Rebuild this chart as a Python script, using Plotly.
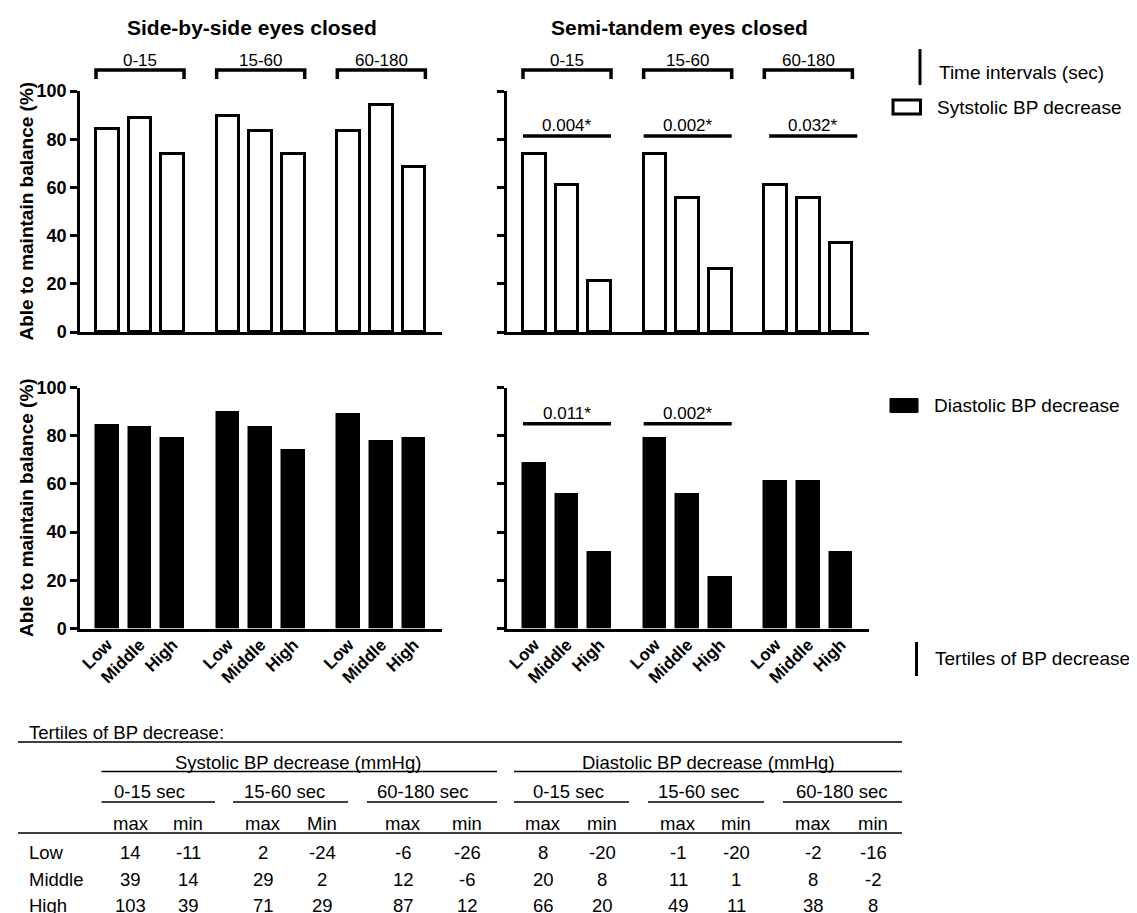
import plotly.graph_objects as go

# page has an 8px body margin: the figure is sized so it ends exactly at the window edge
OFF = 8
W, H = 1137 - OFF, 913 - OFF
FONT = "Liberation Sans, Arial, sans-serif"

# ---------------- data ----------------
tertiles = ["Low", "Middle", "High"]
intervals = ["0-15", "15-60", "60-180"]
panel_titles = ["Side-by-side eyes closed", "Semi-tandem eyes closed"]
y_title = "Able to maintain balance (%)"

sbs_systolic = [84.2, 88.9, 73.7, 89.5, 83.3, 73.7, 83.3, 94.4, 68.4]
semi_systolic = [73.7, 61.1, 21.1, 73.7, 55.6, 26.3, 61.1, 55.6, 36.8]
sbs_diastolic = [84.2, 83.3, 78.9, 89.5, 83.3, 73.7, 88.9, 77.8, 78.9]
semi_diastolic = [68.4, 55.6, 31.6, 78.9, 55.6, 21.1, 61.1, 61.1, 31.6]

semi_systolic_p = ["0.004*", "0.002*", "0.032*"]
semi_diastolic_p = ["0.011*", "0.002*", None]

legend_labels = ["Time intervals (sec)", "Sytstolic BP decrease",
                 "Diastolic BP decrease", "Tertiles of BP decrease"]

table_title = "Tertiles of BP decrease:"
table_groups = ["Systolic BP decrease (mmHg)", "Diastolic BP decrease (mmHg)"]
table_intervals = ["0-15 sec", "15-60 sec", "60-180 sec"]
table_cols = ["max", "min", "max", "Min", "max", "min",
              "max", "min", "max", "min", "max", "min"]
sys_0_15_max = [14, 39, 103]
sys_0_15_min = [-11, 14, 39]
sys_15_60_max = [2, 29, 71]
sys_15_60_min = [-24, 2, 29]
sys_60_180_max = [-6, 12, 87]
sys_60_180_min = [-26, -6, 12]
dia_0_15_max = [8, 20, 66]
dia_0_15_min = [-20, 8, 20]
dia_15_60_max = [-1, 11, 49]
dia_15_60_min = [-20, 1, 11]
dia_60_180_max = [-2, 8, 38]
dia_60_180_min = [-16, -2, 8]

# ---------------- helpers (page pixels -> paper fraction) ----------------
def X(px):
    return (px - OFF) / W

def Y(py):
    return 1 - (py - OFF) / H

GSTEP = 3.7
BW = 0.7
positions = [g * GSTEP + j for g in range(3) for j in range(3)]
XR = [-0.84, 10.26]

fig = go.Figure()

panels = [
    ("x", "y", sbs_systolic, "white"),
    ("x2", "y2", semi_systolic, "white"),
    ("x3", "y3", sbs_diastolic, "black"),
    ("x4", "y4", semi_diastolic, "black"),
]
for xa, ya, vals, col in panels:
    fig.add_trace(go.Bar(
        x=positions, y=vals, width=BW, xaxis=xa, yaxis=ya,
        marker=dict(color=col, line=dict(color="black", width=3 if col == "white" else 1.5)),
        showlegend=False,
        hovertemplate="%{y:.1f}%<extra></extra>",
    ))

top_dom = [Y(332), Y(91)]
bot_dom = [Y(628.5), Y(387.5)]
left_dom = [X(80), X(442)]
right_dom = [X(507), X(869)]

def xax(domain, anchor, labels):
    d = dict(domain=domain, anchor=anchor, range=XR, showgrid=False, zeroline=False,
             showline=True, linecolor="black", linewidth=2.5, ticks="",
             fixedrange=True, automargin=False)
    if labels:
        d.update(tickmode="array", tickvals=positions, ticktext=tertiles * 3,
                 tickangle=-45, showticklabels=True, ticklabelstandoff=-3,
                 tickfont=dict(family=FONT, size=17, color="black", weight="bold"))
    else:
        d.update(showticklabels=False)
    return d

def yax(domain, anchor, labels):
    return dict(domain=domain, anchor=anchor, range=[0, 100], tickmode="array",
                tickvals=[0, 20, 40, 60, 80, 100], showgrid=False, zeroline=False,
                showline=True, linecolor="black", linewidth=2.5, ticks="outside",
                ticklen=7, tickwidth=2.5, tickcolor="black", showticklabels=labels,
                tickfont=dict(family=FONT, size=18, color="black", weight="bold"),
                fixedrange=True, automargin=False)

fig.update_layout(
    template="none",
    width=W, height=H, margin=dict(l=0, r=0, t=0, b=0, pad=0, autoexpand=False),
    paper_bgcolor="white", plot_bgcolor="white", bargap=0,
    font=dict(family=FONT, color="black"),
    xaxis=xax(left_dom, "y", False), yaxis=yax(top_dom, "x", True),
    xaxis2=xax(right_dom, "y2", False), yaxis2=yax(top_dom, "x2", False),
    xaxis3=xax(left_dom, "y3", True), yaxis3=yax(bot_dom, "x3", True),
    xaxis4=xax(right_dom, "y4", True), yaxis4=yax(bot_dom, "x4", False),
)

shapes = []
ann = []

def note(text, x, y, xref="paper", yref="paper", xanchor="center", yanchor="middle", **kw):
    d = dict(text=text, x=x, y=y, xref=xref, yref=yref, xanchor=xanchor,
             yanchor=yanchor, showarrow=False)
    d.update(kw)
    ann.append(d)

# panel titles
note(panel_titles[0], X(252), Y(28), font=dict(size=21, weight="bold"))
note(panel_titles[1], X(679), Y(28), font=dict(size=21, weight="bold"))

# y axis titles
for cy in [(91 + 332) / 2, (387.5 + 628.5) / 2]:
    note(y_title, X(26), Y(cy), textangle=-90, font=dict(size=19, weight="bold"))

# time interval brackets over top panels
for xa in ["x", "x2"]:
    for g, lab in enumerate(intervals):
        x0 = g * GSTEP - BW / 2
        x1 = g * GSTEP + 2 + BW / 2
        shapes.append(dict(type="path", xref=xa, yref="paper",
                           path=f"M {x0},{Y(79)} L {x0},{Y(70)} L {x1},{Y(70)} L {x1},{Y(79)}",
                           line=dict(color="black", width=3.5)))
        note(lab, (x0 + x1) / 2, Y(70), xref=xa, yanchor="bottom", yshift=-2,
             font=dict(size=17))

# significance lines
def sig(xa, ya, labels, yv, shifts):
    for g, lab in enumerate(labels):
        if lab is None:
            continue
        x0 = g * GSTEP - BW / 2 + shifts[g]
        x1 = g * GSTEP + 2 + BW / 2 + shifts[g]
        shapes.append(dict(type="line", xref=xa, yref=ya, x0=x0, x1=x1, y0=yv, y1=yv,
                           line=dict(color="black", width=3.5)))
        note(lab, (x0 + x1) / 2, yv, xref=xa, yref=ya, yanchor="bottom", yshift=-1,
             font=dict(size=17))

sig("x2", "y2", semi_systolic_p, 81.3, [0, 0, 0.15])
sig("x4", "y4", semi_diastolic_p, 85.0, [0, 0, 0])

# legend
shapes.append(dict(type="line", xref="paper", yref="paper", x0=X(920), x1=X(920),
                   y0=Y(49), y1=Y(85), line=dict(color="black", width=3)))
note(legend_labels[0], X(937), Y(72), xanchor="left", font=dict(size=19))
shapes.append(dict(type="rect", xref="paper", yref="paper", x0=X(893), x1=X(920.5),
                   y0=Y(114), y1=Y(100), fillcolor="white", line=dict(color="black", width=3)))
note(legend_labels[1], X(935), Y(107.5), xanchor="left", font=dict(size=19))
shapes.append(dict(type="rect", xref="paper", yref="paper", x0=X(890), x1=X(918),
                   y0=Y(412.5), y1=Y(398.5), fillcolor="black", line=dict(color="black", width=1)))
note(legend_labels[2], X(932), Y(405.5), xanchor="left", font=dict(size=19))
shapes.append(dict(type="line", xref="paper", yref="paper", x0=X(916.5), x1=X(916.5),
                   y0=Y(642), y1=Y(676), line=dict(color="black", width=3)))
note(legend_labels[3], X(933), Y(658), xanchor="left", font=dict(size=19))

# ---------------- table ----------------
TF = 18.5
def hline(x0, x1, y, w=1.6):
    shapes.append(dict(type="line", xref="paper", yref="paper", x0=X(x0), x1=X(x1),
                       y0=Y(y), y1=Y(y), line=dict(color="black", width=w)))

def txt(s, x, y, anchor="center"):
    note(str(s), X(x), Y(y), xanchor=anchor, font=dict(size=TF))

txt(table_title, 27, 732, "left")
hline(18, 902, 742)
txt(table_groups[0], 298, 762)
txt(table_groups[1], 708, 762)
hline(101.5, 497, 771.5)
hline(514, 902, 771.5)
int_centers = [149, 284, 423, 568, 698, 842]
int_spans = [(101.5, 215), (233, 348), (367, 497), (514, 629), (648, 764), (783, 902)]
for i, (c, (a, b)) in enumerate(zip(int_centers, int_spans)):
    txt(table_intervals[i % 3], c, 791)
    hline(a, b, 802)
col_x = [131, 188, 263, 322, 403, 467, 543, 602, 678, 736, 813, 873]
for c, lab in zip(col_x, table_cols):
    txt(lab, c, 823.5)
hline(18, 902, 833)
columns = [sys_0_15_max, sys_0_15_min, sys_15_60_max, sys_15_60_min,
           sys_60_180_max, sys_60_180_min, dia_0_15_max, dia_0_15_min,
           dia_15_60_max, dia_15_60_min, dia_60_180_max, dia_60_180_min]
row_y = [852.5, 879, 905.5]
for r, lab in enumerate(tertiles):
    txt(lab, 27, row_y[r], "left")
    for c, col in zip(col_x, columns):
        txt(col[r], c, row_y[r])

fig.update_layout(shapes=shapes, annotations=ann)
fig.write_html("out.html")
